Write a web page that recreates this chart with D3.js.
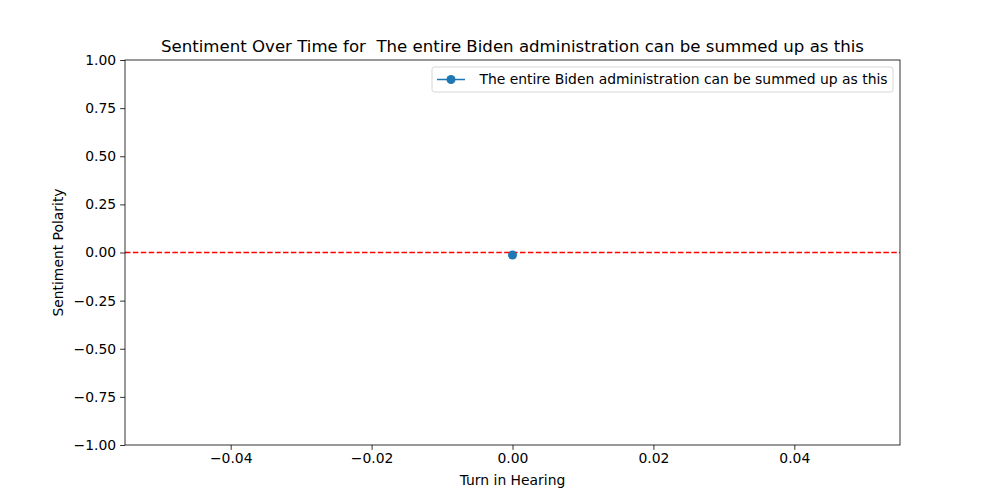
<!DOCTYPE html>
<html><head><meta charset="utf-8">
<script src="https://cdn.jsdelivr.net/npm/d3@7"></script>
<style>body{margin:0;background:#fff}text{font-family:"DejaVu Sans",sans-serif;white-space:pre}</style>
</head><body><svg id="c" width="1000" height="500"></svg>
<script>
const turns = [0];
const polarity = [-0.013];
const seriesName = " The entire Biden administration can be summed up as this";
const titleText = "Sentiment Over Time for  The entire Biden administration can be summed up as this";
const xTicks = [-0.04, -0.02, 0.00, 0.02, 0.04];
const yTicks = [-1.00, -0.75, -0.50, -0.25, 0.00, 0.25, 0.50, 0.75, 1.00];

const svg = d3.select("#c");
const L = 125, R = 900, T = 60, B = 445;
const FS = 13.9;
const x = d3.scaleLinear().domain([-0.055, 0.055]).range([L, R]);
const y = d3.scaleLinear().domain([-1, 1]).range([B, T]);

// zero line
svg.append("line").attr("x1", L).attr("x2", R).attr("y1", y(0)).attr("y2", y(0))
  .attr("stroke", "red").attr("stroke-width", 1.5).attr("stroke-dasharray", "5.5,2.4");

// series
const line = d3.line().x((d, i) => x(turns[i])).y(d => y(d));
svg.append("path").datum(polarity).attr("d", line).attr("fill", "none").attr("stroke", "#1f77b4").attr("stroke-width", 1.5);
svg.selectAll("circle.pt").data(polarity).enter().append("circle")
  .attr("cx", (d, i) => x(turns[i])).attr("cy", d => y(d)).attr("r", 4.5).attr("fill", "#1f77b4");

// axes
const xa = svg.append("g").attr("transform", `translate(0,${B})`)
  .call(d3.axisBottom(x).tickValues(xTicks).tickSize(4.9).tickPadding(4).tickFormat(d => d3.format(".2f")(d).replace("-", "\u2212")));
const ya = svg.append("g").attr("transform", `translate(${L},0)`)
  .call(d3.axisLeft(y).tickValues(yTicks).tickSize(4.9).tickPadding(4).tickFormat(d => d3.format(".2f")(d).replace("-", "\u2212")));
[xa, ya].forEach(a => {
  a.select(".domain").remove();
  a.selectAll("text").attr("font-size", FS).attr("fill", "#000").style("font-family", "DejaVu Sans");
  a.selectAll("line").attr("stroke", "#000").attr("stroke-width", 0.8);
});
xa.selectAll("text").attr("dy", "0.71em").attr("y", 8);
// frame
svg.append("rect").attr("x", L).attr("y", T).attr("width", R - L).attr("height", B - T)
  .attr("fill", "none").attr("stroke", "#000").attr("stroke-width", 0.8);

// labels
svg.append("text").attr("x", (L + R) / 2).attr("y", T - 8).attr("text-anchor", "middle").attr("font-size", 16.6).text(titleText);
svg.append("text").attr("x", (L + R) / 2).attr("y", 485).attr("text-anchor", "middle").attr("font-size", FS).text("Turn in Hearing");
svg.append("text").attr("transform", `translate(63,${(T + B) / 2}) rotate(-90)`).attr("text-anchor", "middle").attr("font-size", FS).text("Sentiment Polarity");

// legend
const lg = svg.append("g");
const lx = 432, ly = 67, lw = 461, lh = 25;
lg.append("rect").attr("x", lx).attr("y", ly).attr("width", lw).attr("height", lh).attr("rx", 2.5)
  .attr("fill", "#fff").attr("fill-opacity", 0.8).attr("stroke", "#ccc").attr("stroke-width", 0.8);
lg.append("line").attr("x1", lx + 5).attr("x2", lx + 33).attr("y1", ly + lh / 2).attr("y2", ly + lh / 2).attr("stroke", "#1f77b4").attr("stroke-width", 1.5);
lg.append("circle").attr("cx", lx + 19).attr("cy", ly + lh / 2).attr("r", 4.5).attr("fill", "#1f77b4");
lg.append("text").attr("x", lx + 43).attr("y", ly + lh / 2).attr("dy", "0.35em").attr("font-size", FS).text(seriesName);
</script></body></html>
